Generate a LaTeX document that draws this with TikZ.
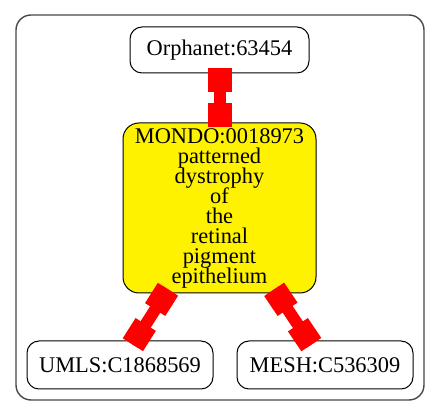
\documentclass[tikz,border=0pt]{standalone}
\usepackage{fontspec}
\setmainfont{Liberation Serif}
\begin{document}
\begin{tikzpicture}[x=0.5pt,y=-0.5pt,
  nbox/.style={draw=black, line width=0.5pt, rounded corners=6pt, inner sep=0pt,
    font={\fontsize{11.2}{10}\selectfont\lineskip=0pt\lineskiplimit=-5pt}, align=center},
  redge/.style={draw=red, line width=6pt, shorten <=-2.5pt, shorten >=-2.5pt},
  rcap/.style={draw=red, line width=12pt, shorten <=-2.5pt, dash pattern=on 12pt off 2000pt}]
\useasboundingbox (0,0) rectangle (440,416);
\draw[draw=black!72, line width=0.7pt, rounded corners=7.5pt] (16,15) rectangle (424,400);
\node[nbox, minimum width=89.5pt, minimum height=23pt] (orph) at (219.5,50) {Orphanet:63454};
\node[nbox, fill=yellow, rounded corners=8pt, minimum width=96.5pt, minimum height=85pt] (mondo) at (219.5,208)
  {MONDO:0018973\\patterned\\dystrophy\\of\\the\\retinal\\pigment\\epithelium};
\node[nbox, minimum width=93pt, minimum height=24pt] (umls) at (120,365) {UMLS:C1868569};
\node[nbox, minimum width=88pt, minimum height=24pt] (mesh) at (325,365) {MESH:C536309};
\draw[redge] (orph) -- (mondo);
\draw[rcap] (orph) -- (mondo);
\draw[rcap] (mondo) -- (orph);
\draw[redge] (mondo) -- (umls);
\draw[rcap] (mondo) -- (umls);
\draw[rcap] (umls) -- (mondo);
\draw[redge] (mondo) -- (mesh);
\draw[rcap] (mondo) -- (mesh);
\draw[rcap] (mesh) -- (mondo);
\end{tikzpicture}
\end{document}
